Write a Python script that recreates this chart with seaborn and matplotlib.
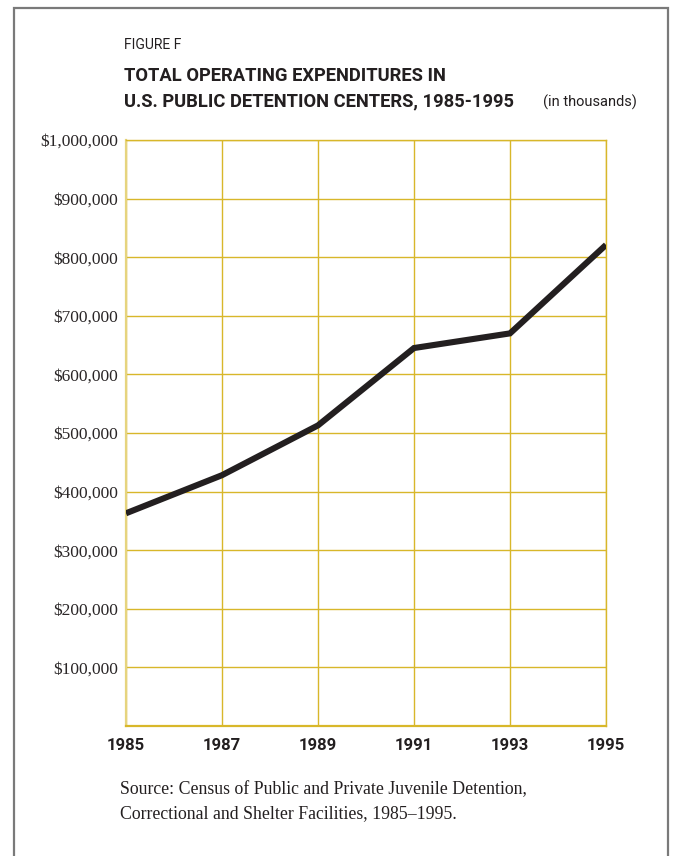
import matplotlib
matplotlib.use("Agg")
import matplotlib.pyplot as plt
import seaborn as sns
import pandas as pd
from matplotlib.patches import Rectangle

years = [1985, 1987, 1989, 1991, 1993, 1995]
expenditures = [363000, 428000, 513000, 645000, 670000, 821000]
y_ticks = [100000, 200000, 300000, 400000, 500000, 600000, 700000, 800000, 900000, 1000000]
y_tick_labels = ["$100,000", "$200,000", "$300,000", "$400,000", "$500,000",
                 "$600,000", "$700,000", "$800,000", "$900,000", "$1,000,000"]
x_tick_labels = ["1985", "1987", "1989", "1991", "1993", "1995"]

sns.set_style("white")
plt.rcParams["font.family"] = ["Roboto", "DejaVu Sans"]

df = pd.DataFrame({"year": years, "value": expenditures})

fig = plt.figure(figsize=(6.73, 8.56), dpi=100)
ax = fig.add_axes([126/673, 1-726/856, (606-126)/673, (726-140)/856])

grid_c = "#D8B72A"
sns.lineplot(data=df, x="year", y="value", ax=ax, color="#231F20", linewidth=4.4,
             solid_capstyle="butt", solid_joinstyle="miter", zorder=5)

ax.set_xlim(1985, 1995)
ax.set_ylim(0, 1000000)
ax.set_xticks(years)
ax.set_xticklabels(x_tick_labels)
ax.set_yticks(y_ticks)
ax.set_yticklabels(y_tick_labels)
ax.grid(True, color=grid_c, linewidth=1.0)
ax.set_xlabel("")
ax.set_ylabel("")
for s in ["left", "right", "top", "bottom"]:
    ax.spines[s].set_color(grid_c)
    ax.spines[s].set_linewidth(1.0)
ax.spines["left"].set_color("#E6D47E")
ax.spines["left"].set_linewidth(1.6)
ax.spines["bottom"].set_linewidth(1.6)
ax.tick_params(axis="both", length=0)
ax.tick_params(axis="y", pad=6, labelsize=12.5, labelcolor="#2A2627")
ax.tick_params(axis="x", pad=9, labelsize=12, labelcolor="#231F20")
for t in ax.get_yticklabels():
    t.set_family(["Liberation Serif", "DejaVu Serif"])
for t in ax.get_xticklabels():
    t.set_fontweight("bold")

# Frame
fig.patches.append(Rectangle((14/673, -0.05), (668-14)/673, 1.05 - 8/856,
                             transform=fig.transFigure, fill=False,
                             edgecolor="#7A7A7A", linewidth=1.6))

fig.text(124/673, 1-45/856, "FIGURE F", fontsize=10, color="#231F20", va="center")
fig.text(124/673, 1-76/856, "TOTAL OPERATING EXPENDITURES IN", fontsize=13.2,
         fontweight="bold", color="#231F20", va="center")
fig.text(124/673, 1-101/856, "U.S. PUBLIC DETENTION CENTERS, 1985-1995", fontsize=13.2,
         fontweight="bold", color="#231F20", va="center")
fig.text(543/673, 1-102/856, "(in thousands)", fontsize=10.5, color="#231F20", va="center")

fig.text(120/673, 1-790/856, "Source: Census of Public and Private Juvenile Detention,",
         fontsize=12.8, family=["Liberation Serif", "DejaVu Serif"], color="#231F20", va="center")
fig.text(120/673, 1-814/856, "Correctional and Shelter Facilities, 1985\u20131995.",
         fontsize=12.8, family=["Liberation Serif", "DejaVu Serif"], color="#231F20", va="center")

fig.savefig("out.png", dpi=100)
